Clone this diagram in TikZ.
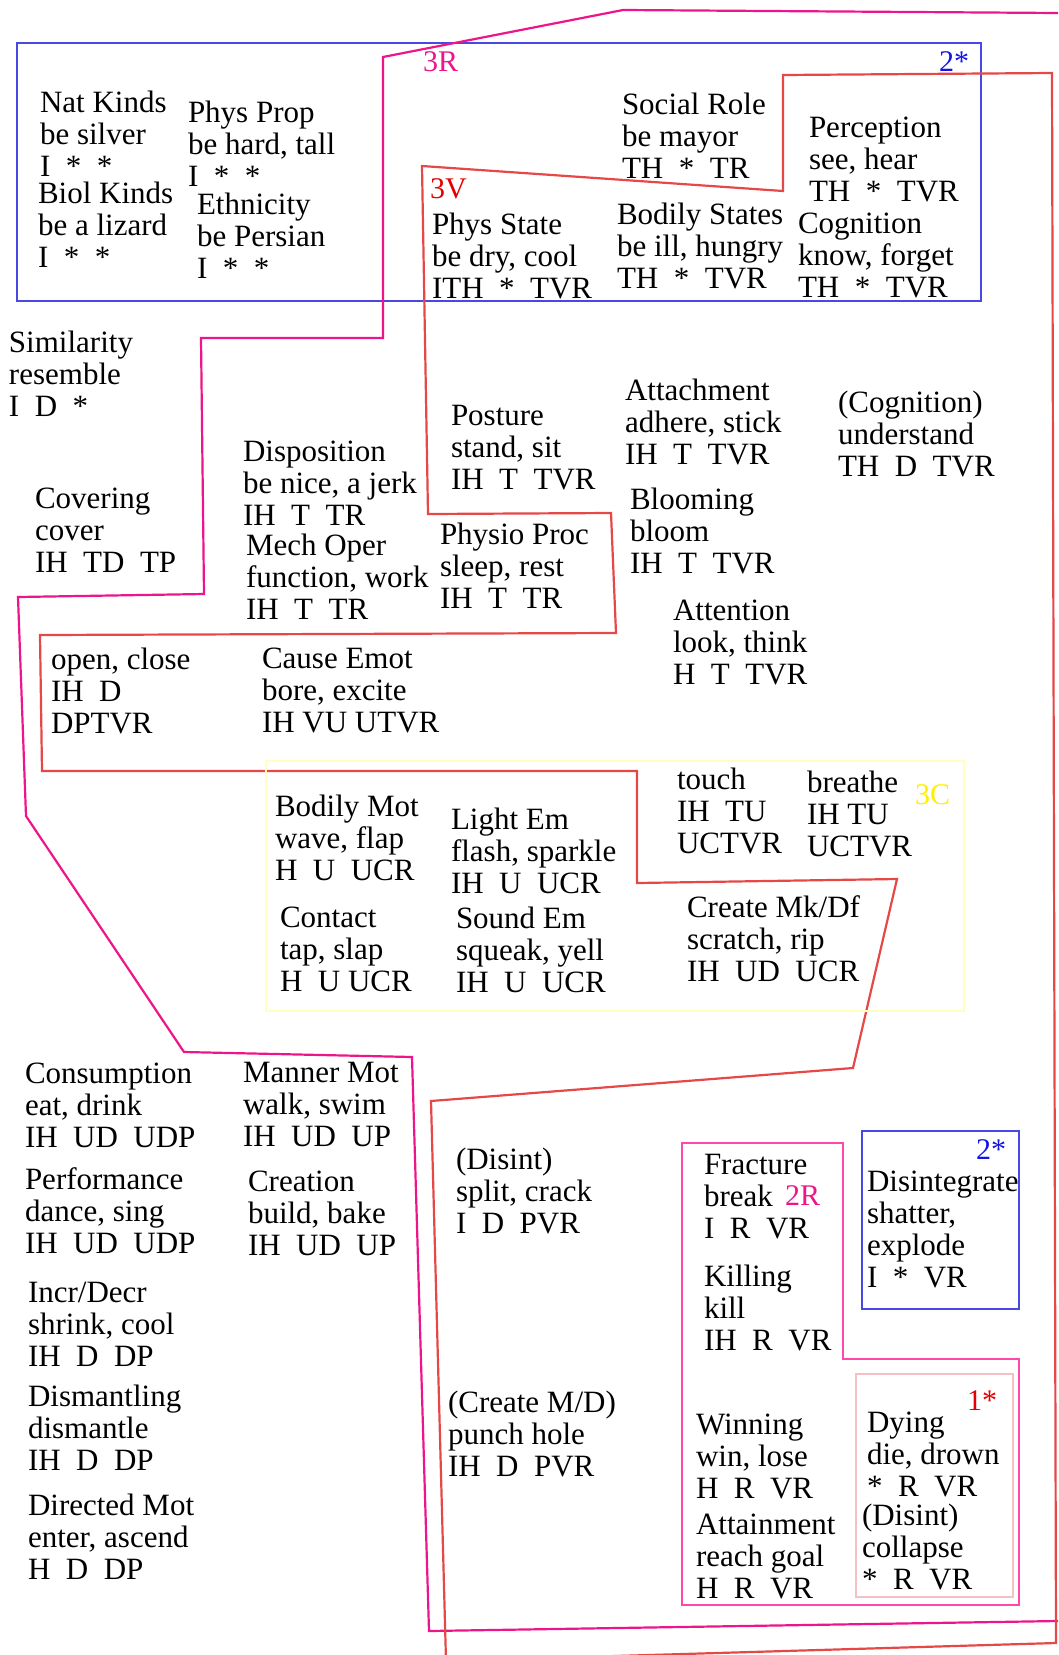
\documentclass[tikz,border=0pt]{standalone}
\usepackage{fontspec}
\setmainfont{Liberation Serif}
\definecolor{cblue}{RGB}{72,72,226}
\definecolor{cmag}{RGB}{238,20,138}
\definecolor{cred}{RGB}{230,72,72}
\definecolor{cyel}{RGB}{255,255,190}
\definecolor{cyellab}{RGB}{255,240,0}
\definecolor{cpink}{RGB}{255,72,170}
\definecolor{clpink}{RGB}{245,192,196}
\definecolor{cbluelab}{RGB}{20,20,230}
\definecolor{credlab}{RGB}{228,0,0}
\begin{document}
\begin{tikzpicture}[x=1pt,y=-1pt,
  blk/.style={anchor=north west,inner sep=0pt,outer sep=0pt,align=left,yshift=19.5pt,
    font=\fontsize{31}{32}\selectfont,execute at begin node={\rule{0pt}{21.5pt}}},
  lab/.style={anchor=base west,inner sep=0pt,outer sep=0pt,font=\fontsize{30}{32}\selectfont},
  labr/.style={anchor=base east,inner sep=0pt,outer sep=0pt,font=\fontsize{30}{32}\selectfont},
  edge/.style={line width=2.2pt,line join=miter}]
\useasboundingbox (0,0) rectangle (1058,1655);
\fill[white] (0,0) rectangle (1058,1655);
% group outlines
\draw[edge,cblue] (17,43) rectangle (981,301);
\draw[edge,cmag] (1058,13) -- (623,10) -- (383,57) -- (383,338) -- (201,338) -- (204,594) -- (18,597) -- (26,816) -- (184,1052) -- (412,1057) -- (429,1631) -- (1058,1621);
\draw[edge,cred] (422,166) -- (783,191) -- (783,75) -- (1052,73) -- (1056,1643) -- (446,1661)
  -- (431,1101) -- (853,1068) -- (897,879) -- (637,883) -- (637,771) -- (42,771) -- (40,635)
  -- (616,633) -- (611,513) -- (428,514) -- cycle;
\draw[edge,cyel,line width=2pt] (266,761) rectangle (964,1011);
\draw[edge,cpink] (682,1143) -- (843,1143) -- (843,1359) -- (1019,1359) -- (1019,1605) -- (682,1605) -- cycle;
\draw[edge,cblue] (862,1131) rectangle (1019,1309);
\draw[edge,clpink] (856,1374) rectangle (1013,1597);
% group labels
\node[lab,text=cmag] (l3R) at (423,71) {3R};
\node[lab,text=credlab] (l3V) at (430,198) {3V};
\node[labr,text=cbluelab] (l2a) at (969,71) {2*};
\node[lab,text=cyellab] (l3C) at (915,804) {3C};
\node[lab,text=cmag] (l2R) at (785,1205) {2R};
\node[labr,text=cbluelab] (l2b) at (1006,1159) {2*};
\node[lab,text=credlab] (l1) at (967,1410) {1*};
% verb classes
\node[blk] (natkinds) at (40,110) {Nat Kinds\\be silver\\I~~*~~*};
\node[blk] (biolkinds) at (38,201) {Biol Kinds\\be a lizard\\I~~*~~*};
\node[blk] (physprop) at (188,120) {Phys Prop\\be hard, tall\\I~~*~~*};
\node[blk] (ethnicity) at (197,212) {Ethnicity\\be Persian\\I~~*~~*};
\node[blk] (socialrole) at (622,112) {Social Role\\be mayor\\TH~~*~~TR};
\node[blk] (perception) at (809,136) {Perception\\see, hear\\TH~~*~~TVR};
\node[blk] (physstate) at (432,232) {Phys State\\be dry, cool\\ITH~~*~~TVR};
\node[blk] (bodilystates) at (617,222) {Bodily States\\be ill, hungry\\TH~~*~~TVR};
\node[blk] (cognition) at (798,232) {Cognition\\know, forget\\TH~~*~~TVR};
\node[blk] (similarity) at (9,350) {Similarity\\resemble\\I~~D~~*};
\node[blk] (covering) at (35,507) {Covering\\cover\\IH~~TD~~TP};
\node[blk] (disposition) at (243,460) {Disposition\\be nice, a jerk\\IH~~T~~TR};
\node[blk] (mechoper) at (246,553) {Mech Oper\\function, work\\IH~~T~~TR};
\node[blk] (openclose) at (51,667) {open, close\\IH~~D\\DPTVR};
\node[blk] (causeemot) at (262,667) {Cause Emot\\bore, excite\\IH VU UTVR};
\node[blk] (posture) at (451,425) {Posture\\stand, sit\\IH~~T~~TVR};
\node[blk] (physioproc) at (440,542) {Physio Proc\\sleep, rest\\IH~~T~~TR};
\node[blk] (attachment) at (625,398) {Attachment\\adhere, stick\\IH~~T~~TVR};
\node[blk] (cognition2) at (838,410) {(Cognition)\\understand\\TH~~D~~TVR};
\node[blk] (blooming) at (630,507) {Blooming\\bloom\\IH~~T~~TVR};
\node[blk] (attention) at (673,619) {Attention\\look, think\\H~~T~~TVR};
\node[blk] (bodilymot) at (275,814) {Bodily Mot\\wave, flap\\H~~U~~UCR};
\node[blk] (lightem) at (451,827) {Light Em\\flash, sparkle\\IH~~U~~UCR};
\node[blk] (contact) at (280,926) {Contact\\tap, slap\\H~~U UCR};
\node[blk] (soundem) at (456,926) {Sound Em\\squeak, yell\\IH~~U~~UCR};
\node[blk] (touch) at (677,787) {touch\\IH~~TU\\UCTVR};
\node[blk] (breathe) at (807,790) {breathe\\IH TU\\UCTVR};
\node[blk] (createmk) at (687,915) {Create Mk/Df\\scratch, rip\\IH~~UD~~UCR};
\node[blk] (consumption) at (25,1082) {Consumption\\eat, drink\\IH~~UD~~UDP};
\node[blk] (mannermot) at (243,1082) {Manner Mot\\walk, swim\\IH~~UD~~UP};
\node[blk] (performance) at (25,1187) {Performance\\dance, sing\\IH~~UD~~UDP};
\node[blk] (creation) at (248,1190) {Creation\\build, bake\\IH~~UD~~UP};
\node[blk] (incrdecr) at (28,1302) {Incr/Decr\\shrink, cool\\IH~~D~~DP};
\node[blk] (dismantling) at (28,1404) {Dismantling\\dismantle\\IH~~D~~DP};
\node[blk] (directedmot) at (28,1513) {Directed Mot\\enter, ascend\\H~~D~~DP};
\node[blk] (disint) at (456,1167) {(Disint)\\split, crack\\I~~D~~PVR};
\node[blk] (createmd) at (448,1410) {(Create M/D)\\punch hole\\IH~~D~~PVR};
\node[blk] (fracture) at (704,1174) {Fracture\\break\\I~~R~~VR};
\node[blk] (killing) at (704,1284) {Killing\\kill\\IH~~R~~VR};
\node[blk] (disintegrate) at (867,1190) {Disintegrate\\shatter,\\explode\\I~~*~~VR};
\node[blk] (winning) at (696,1433) {Winning\\win, lose\\H~~R~~VR};
\node[blk] (attainment) at (696,1533) {Attainment\\reach goal\\H~~R~~VR};
\node[blk] (dying) at (867,1431) {Dying\\die, drown\\*~~R~~VR};
\node[blk] (disint2) at (862,1523) {(Disint)\\collapse\\*~~R~~VR};
\end{tikzpicture}
\end{document}
